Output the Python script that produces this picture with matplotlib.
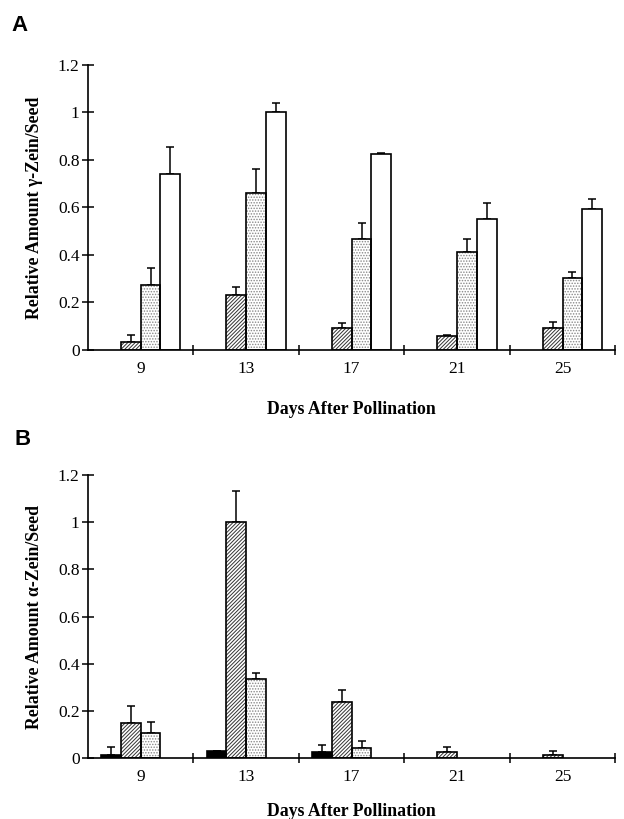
import matplotlib.pyplot as plt
import numpy as np

plt.rcParams['font.family'] = ['Liberation Serif', 'DejaVu Serif']
plt.rcParams['hatch.linewidth'] = 0.7

days = [9, 13, 17, 21, 25]

# panel A - gamma zein
a_black = [0, 0, 0, 0, 0]
a_black_err = [0, 0, 0, 0, 0]
a_hatch = [0.035, 0.232, 0.091, 0.057, 0.091]
a_hatch_err = [0.028, 0.031, 0.021, 0.005, 0.028]
a_dot = [0.273, 0.661, 0.466, 0.413, 0.304]
a_dot_err = [0.07, 0.10, 0.07, 0.055, 0.025]
a_white = [0.739, 1.0, 0.824, 0.55, 0.594]
a_white_err = [0.115, 0.04, 0.006, 0.067, 0.04]

# panel B - alpha zein
b_black = [0.014, 0.028, 0.024, 0, 0]
b_black_err = [0.031, 0, 0.03, 0, 0]
b_hatch = [0.148, 1.0, 0.237, 0.024, 0.014]
b_hatch_err = [0.074, 0.133, 0.053, 0.021, 0.016]
b_dot = [0.104, 0.337, 0.041, 0, 0]
b_dot_err = [0.05, 0.023, 0.029, 0, 0]
b_white = [0, 0, 0, 0, 0]
b_white_err = [0, 0, 0, 0, 0]

w = 0.75
offsets = [-1.5 * w, -0.5 * w, 0.5 * w, 1.5 * w]
# (fill, hatch, hatch colour)
styles = [('black', '', 'black'), ('white', '/////////', '#333333'),
          ('white', '......', '#888888'), ('white', '', 'black')]


def panel(ax, series, ylabel, xlab_y):
    x = np.array(days, dtype=float)
    for (vals, errs), off, (fc, hatch, hc) in zip(series, offsets, styles):
        vals = np.array(vals)
        errs = np.array(errs)
        keep = vals > 0
        if not keep.any():
            continue
        xs = x[keep] + off
        ax.bar(xs, vals[keep], w, color=fc, hatch=hatch, edgecolor=hc,
               linewidth=0, zorder=2)
        ax.bar(xs, vals[keep], w, fill=False, edgecolor='black', linewidth=1.2,
               zorder=3)
        e = errs[keep]
        ax.errorbar(xs, vals[keep], yerr=[np.zeros_like(e), e], fmt='none',
                    ecolor='black', elinewidth=1.1, capsize=3, capthick=1.1,
                    zorder=1)
    ax.set_xlim(7, 27)
    ax.set_ylim(0, 1.2)
    ax.spines['top'].set_visible(False)
    ax.spines['right'].set_visible(False)
    ax.spines['left'].set_linewidth(1.2)
    ax.spines['bottom'].set_linewidth(1.2)
    ax.set_xticks(days)
    ax.set_xticklabels([str(d) for d in days])
    ax.set_xticks([11, 15, 19, 23, 27], minor=True)
    ax.tick_params(axis='x', which='major', length=0, pad=8, labelsize=12.5)
    ax.tick_params(axis='x', which='minor', direction='inout', length=7, width=1.1)
    ax.set_yticks([0, 0.2, 0.4, 0.6, 0.8, 1.0, 1.2])
    ax.set_yticklabels(['0', '0.2', '0.4', '0.6', '0.8', '1', '1.2'])
    ax.tick_params(axis='y', direction='inout', length=8, width=1.1, pad=2,
                   labelsize=12.5)
    ax.set_xlabel('Days After Pollination', fontsize=12.8, fontweight='bold')
    ax.xaxis.set_label_coords(0.5, xlab_y)
    ax.set_ylabel(ylabel, fontsize=12.8, fontweight='bold')
    ax.yaxis.set_label_coords(-0.086, 0.5)


fig = plt.figure(figsize=(6.24, 8.19), dpi=100)
ax1 = fig.add_axes([0.141, 0.5727, 0.845, 0.348])
ax2 = fig.add_axes([0.141, 0.0745, 0.845, 0.3455])

panel(ax1, [(a_black, a_black_err), (a_hatch, a_hatch_err),
            (a_dot, a_dot_err), (a_white, a_white_err)],
      'Relative Amount γ-Zein/Seed', -0.18)
panel(ax2, [(b_black, b_black_err), (b_hatch, b_hatch_err),
            (b_dot, b_dot_err), (b_white, b_white_err)],
      'Relative Amount α-Zein/Seed', -0.158)

fig.text(0.019, 0.962, 'A', fontsize=16, fontweight='bold',
         family='Liberation Sans')
fig.text(0.024, 0.457, 'B', fontsize=16, fontweight='bold',
         family='Liberation Sans')

fig.savefig('out.png', dpi=100)
